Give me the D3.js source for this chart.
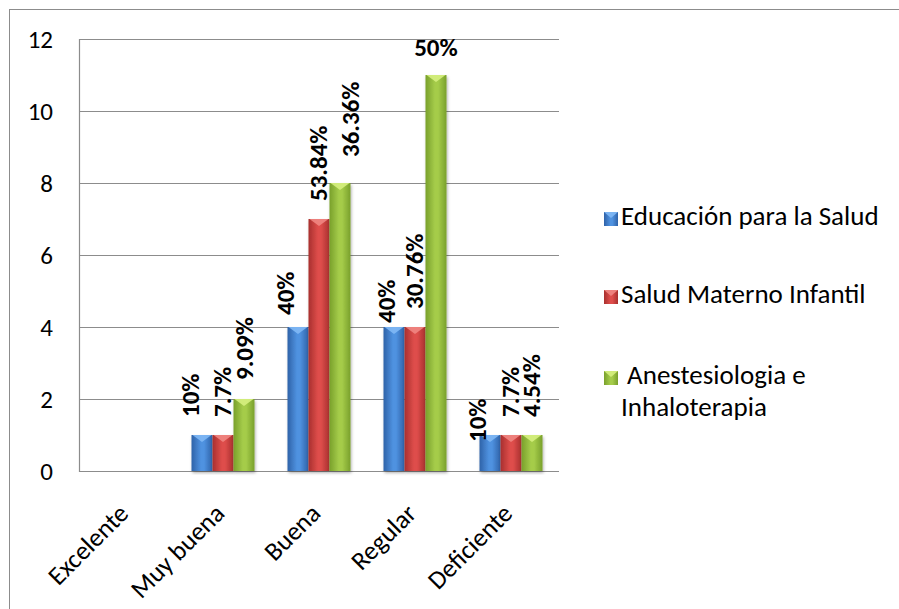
<!DOCTYPE html>
<html>
<head>
<meta charset="utf-8">
<script src="https://cdn.jsdelivr.net/npm/d3@7"></script>
<style>
  html, body { margin: 0; padding: 0; background: #fff; }
  svg { display: block; font-family: Carlito, Calibri, "Open Sans", sans-serif; }
</style>
</head>
<body>
<svg id="chart" width="899" height="609"></svg>
<script>
// Rating categories and respondents per programme
const categories = ["Excelente", "Muy buena", "Buena", "Regular", "Deficiente"];
const seriesNames = ["Educación para la Salud", "Salud Materno Infantil", "Anestesiologia e Inhaloterapia"];
const educacionValues = [0, 1, 4, 4, 1];
const maternoValues   = [0, 1, 7, 4, 1];
const anestesiaValues = [0, 2, 8, 11, 1];
const educacionLabels = [null, "10%", "40%", "40%", "10%"];
const maternoLabels   = [null, "7.7%", "53.84%", "30.76%", "7.7%"];
const anestesiaLabels = [null, "9.09%", "36.36%", "50%", "4.54%"];
const yTicks = [0, 2, 4, 6, 8, 10, 12];

const seriesValues = [educacionValues, maternoValues, anestesiaValues];
const seriesLabels = [educacionLabels, maternoLabels, anestesiaLabels];

const FONT = "Carlito, Calibri, 'Open Sans', sans-serif";
const FS_TICK = 25, FS_TEXT = 26, FS_LEGEND = 27, FS_LABEL = 25;

// Colour ramps per series: edge, centre, cap highlight
const palette = [
  { edge: "#2f62a8", mid: "#4f92e0", cap: "#7fb8f5" },
  { edge: "#a8302e", mid: "#de4d4b", cap: "#f08682" },
  { edge: "#79a02c", mid: "#a5cc4a", cap: "#d6f080" }
];

const svg = d3.select("#chart");
const plot = { left: 79, right: 559, top: 39, bottom: 471 };

const x = d3.scaleBand().domain(categories).range([plot.left, plot.right]).padding(0);
const groupWidth = 63;
const xInner = d3.scaleBand().domain(d3.range(seriesNames.length))
  .range([(x.bandwidth() - groupWidth) / 2, (x.bandwidth() + groupWidth) / 2]).padding(0);
const y = d3.scaleLinear().domain([0, 12]).range([plot.bottom, plot.top]);

// Chart frame
svg.append("rect")
  .attr("x", 9.5).attr("y", 9.5).attr("width", 950).attr("height", 650)
  .attr("fill", "none").attr("stroke", "#8c8c8c").attr("stroke-width", 1);

const defs = svg.append("defs");
palette.forEach((c, i) => {
  const g = defs.append("linearGradient").attr("id", "bar" + i)
    .attr("x1", "0").attr("x2", "1").attr("y1", "0").attr("y2", "0");
  g.append("stop").attr("offset", "0").attr("stop-color", c.edge);
  g.append("stop").attr("offset", "0.45").attr("stop-color", c.mid);
  g.append("stop").attr("offset", "0.6").attr("stop-color", c.mid);
  g.append("stop").attr("offset", "1").attr("stop-color", c.edge);
});
const shadow = defs.append("filter").attr("id", "shadow")
  .attr("x", "-20%").attr("y", "-5%").attr("width", "140%").attr("height", "115%");
shadow.append("feDropShadow").attr("dx", 1).attr("dy", 2).attr("stdDeviation", 1.5)
  .attr("flood-color", "#000").attr("flood-opacity", 0.3);

// Gridlines and tick labels
const yAxis = d3.axisLeft(y).tickValues(yTicks).tickSize(0).tickPadding(26);
const yG = svg.append("g").attr("transform", `translate(${plot.left},0)`).call(yAxis);
yG.select(".domain").remove();
yG.selectAll("text").attr("font-size", FS_TICK).attr("fill", "#000").attr("font-family", FONT);

svg.append("g").selectAll("line").data(yTicks).join("line")
  .attr("x1", plot.left).attr("x2", plot.right)
  .attr("y1", d => Math.round(y(d)) + 0.5).attr("y2", d => Math.round(y(d)) + 0.5)
  .attr("stroke", "#8c8c8c").attr("stroke-width", 1.2);

svg.append("line")
  .attr("x1", plot.left + 0.5).attr("x2", plot.left + 0.5)
  .attr("y1", plot.top).attr("y2", plot.bottom + 1)
  .attr("stroke", "#8c8c8c").attr("stroke-width", 1.2);

// Bars
const barData = [];
seriesValues.forEach((vals, s) => {
  vals.forEach((v, i) => {
    barData.push({ s, cat: categories[i], i, v, label: seriesLabels[s][i] });
  });
});

const bars = svg.append("g").selectAll("g.bar")
  .data(barData.filter(d => d.v > 0)).join("g").attr("class", "bar")
  .attr("filter", "url(#shadow)");

bars.append("rect")
  .attr("x", d => x(d.cat) + xInner(d.s))
  .attr("y", d => y(d.v))
  .attr("width", xInner.bandwidth())
  .attr("height", d => y(0) - y(d.v))
  .attr("fill", d => `url(#bar${d.s})`);

bars.append("path")
  .attr("d", d => {
    const x0 = x(d.cat) + xInner(d.s), w = xInner.bandwidth(), t = y(d.v);
    return `M${x0 + 1},${t}L${x0 + w - 1},${t}L${x0 + w / 2},${t + 7}Z`;
  })
  .attr("fill", d => palette[d.s].cap).attr("opacity", 0.9);

// Value labels: shifts (dx) and gaps above each bar, keyed "series|category"
const labelShift = {
  "0|Muy buena": [-11, 18], "0|Buena": [-12, 12], "0|Regular": [-7, 4], "0|Deficiente": [-12, -7],
  "2|Muy buena": [1, 19], "2|Buena": [11, 26]
};
const labelData = barData.filter(d => d.label);
const labels = svg.append("g").attr("font-weight", "bold").attr("font-size", FS_LABEL).attr("fill", "#000");

labelData.forEach(d => {
  const cx = x(d.cat) + xInner(d.s) + xInner.bandwidth() / 2;
  const [dx, gap] = labelShift[d.s + "|" + d.cat] || [0, 18];
  const top = y(d.v);
  if (d.v >= 11) {
    // tallest bar carries a horizontal label
    labels.append("text").attr("x", cx).attr("y", top - 19)
      .attr("text-anchor", "middle").text(d.label);
  } else {
    labels.append("text")
      .attr("transform", `translate(${cx + dx},${top - gap}) rotate(-90)`)
      .attr("dy", "0.33em").attr("text-anchor", "start").text(d.label);
  }
});

// Category labels, rotated
svg.append("g").selectAll("text").data(categories).join("text")
  .attr("transform", d => `translate(${x(d) + x.bandwidth() / 2 + 3},${plot.bottom + 44}) rotate(-45)`)
  .attr("text-anchor", "end").attr("font-size", FS_TEXT).attr("fill", "#000")
  .text(d => d);

// Legend
const legendRows = [
  { s: 0, lines: ["Educación para la Salud"], y: 225 },
  { s: 1, lines: ["Salud Materno Infantil"], y: 303 },
  { s: 2, lines: ["\u00a0Anestesiologia e", "Inhaloterapia"], y: 384 }
];
const legend = svg.append("g");
legendRows.forEach(r => {
  legend.append("rect").attr("x", 604).attr("y", r.y - 13).attr("width", 14).attr("height", 14)
    .attr("fill", `url(#bar${r.s})`);
  legend.append("path")
    .attr("d", `M604,${r.y - 13}L618,${r.y - 13}L611,${r.y - 7}Z`)
    .attr("fill", palette[r.s].cap).attr("opacity", 0.9);
  const t = legend.append("text").attr("font-size", FS_LEGEND).attr("fill", "#000");
  r.lines.forEach((line, k) => {
    t.append("tspan").attr("x", 621).attr("y", r.y + k * 32).text(line);
  });
});
</script>
</body>
</html>
